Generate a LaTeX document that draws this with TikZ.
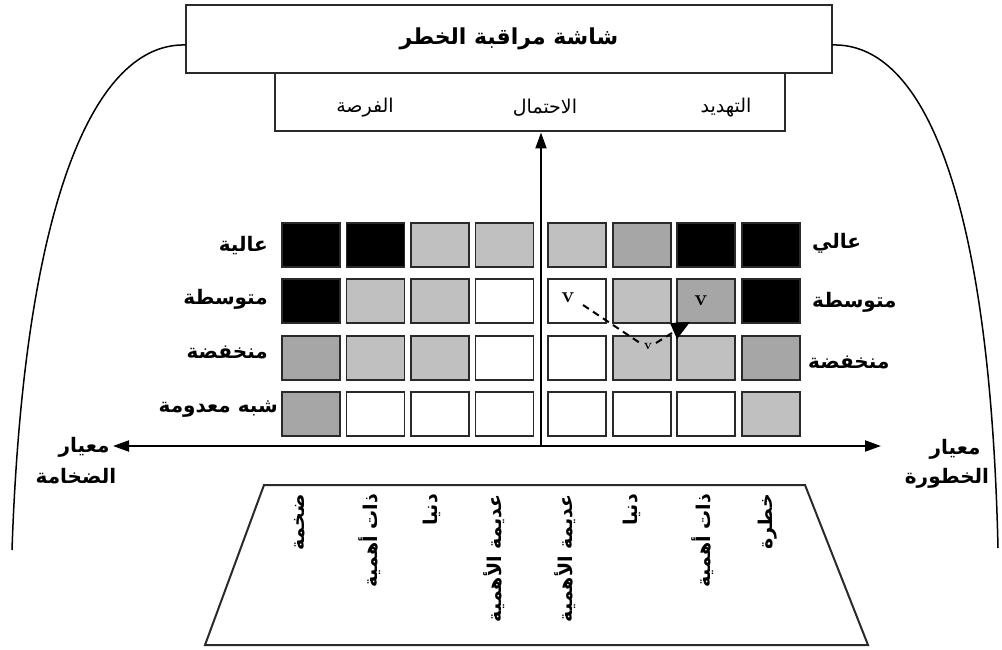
\documentclass[tikz,border=0pt]{standalone}
\usepackage{fontspec}
\TeXXeTstate=1
\newfontfamily\arabicfont[Script=Arabic]{DejaVu Sans}
\usetikzlibrary{arrows.meta}
\definecolor{midgray}{HTML}{A6A6A6}
\definecolor{lightgray}{HTML}{C0C0C0}
\definecolor{edge}{HTML}{2A2A2A}
\tikzset{
  box/.style={draw=edge,line width=2pt,fill=white,inner sep=0pt},
  cell/.style={draw=edge,line width=1.8pt,minimum width=58pt,minimum height=44pt,inner sep=0pt},
  axis/.style={line width=2pt,-{Triangle[length=16pt,width=11pt]}},
  curveline/.style={line width=1.5pt},
  lbl/.style={font=\arabicfont\bfseries\fontsize{20}{24}\selectfont,inner sep=0pt},
  toplbl/.style={font=\arabicfont\fontsize{19}{22}\selectfont,inner sep=0pt},
  botlbl/.style={font=\arabicfont\bfseries\fontsize{19}{22}\selectfont,inner sep=0pt,rotate=90,anchor=east},
  vmark/.style={font=\bfseries\fontsize{22}{22}\selectfont,inner sep=0pt},
  dashline/.style={line width=2pt,dash pattern=on 7pt off 5pt}
}
\begin{document}
\begin{tikzpicture}[x=1pt,y=-1pt]
\useasboundingbox (0,0) rectangle (1002,650);
% top boxes
\node[box,minimum width=510pt,minimum height=59pt] (sub) at (530,102) {};
\node[box,minimum width=646pt,minimum height=68pt] (title) at (509,39) {};
\node[lbl,font=\arabicfont\bfseries\fontsize{22}{26}\selectfont] at (title.center) {\beginR شاشة مراقبة الخطر\endR};
\node[toplbl] (t1) at (365,108) {\beginR الفرصة\endR};
\node[toplbl] (t2) at (545,108) {\beginR الاحتمال\endR};
\node[toplbl] (t3) at (726,108) {\beginR التهديد\endR};
% side curves
\coordinate (lc) at (186,45);
\coordinate (le) at (12,550);
\coordinate (rc) at (832,45);
\coordinate (re) at (998,548);
\draw[curveline] (lc) .. controls (95,42) and (24,200) .. (le);
\draw[curveline] (rc) .. controls (925,42) and (990,200) .. (re);
% grid
\foreach \r/\y/\cols in {1/245/{black,black,lightgray,lightgray,lightgray,midgray,black,black},
                          2/301.3/{black,lightgray,lightgray,white,white,lightgray,midgray,black},
                          3/357.7/{midgray,lightgray,lightgray,white,white,lightgray,lightgray,midgray},
                          4/414/{midgray,white,white,white,white,white,white,lightgray}}{
  \foreach \c/\x [count=\i] in {a/311,b/375.5,c/440,d/504.5,e/577,f/641.7,g/706.3,h/771}{
    \foreach \col [count=\j] in \cols {
      \ifnum\i=\j
        \node[cell,fill=\col] (cell\r\c) at (\x,\y) {};
      \fi
    }
  }
}
% axes
\coordinate (org) at (541,446);
\coordinate (xl) at (113,446);
\coordinate (xr) at (881,446);
\draw[axis] (org) -- (xl);
\draw[axis] (org) -- (xr);
\draw[axis] (org) -- (sub.south -| org);
% row labels
\node[lbl,anchor=east] (l1) at (268,246) {\beginR عالية\endR};
\node[lbl,anchor=east] (l2) at (268,299) {\beginR متوسطة\endR};
\node[lbl,anchor=east] (l3) at (268,352) {\beginR منخفضة\endR};
\node[lbl,anchor=east] (l4) at (278,409) {\beginR شبه معدومة\endR};
\node[lbl,anchor=west] (r1) at (812,243) {\beginR عالي\endR};
\node[lbl,anchor=west] (r2) at (812,302) {\beginR متوسطة\endR};
\node[lbl,anchor=west] (r3) at (808,362) {\beginR منخفضة\endR};
% axis labels
\node[lbl] (al1) at (84,447) {\beginR معيار\endR};
\node[lbl] (al2) at (76,476) {\beginR الضخامة\endR};
\node[lbl] (ar1) at (955,449) {\beginR معيار\endR};
\node[lbl] (ar2) at (947,478) {\beginR الخطورة\endR};
% v marks and dashed arrow
\node[vmark] (v1) at (568,298) {v};
\node[vmark] (v2) at (701,301) {v};
\node[vmark,font=\bfseries\fontsize{14}{14}\selectfont] (v3) at (648,346) {v};
\coordinate (d1) at (583,305);
\coordinate (d2) at (640,343);
\coordinate (d3) at (656,343);
\coordinate (d4) at (672,333);
\draw[dashline] (d1) -- (d2);
\draw[dashline] (d3) -- (d4);
\fill (670,323) -- (690,322) -- (677,339) -- cycle;
% bottom trapezoid
\coordinate (p1) at (264,485);
\coordinate (p2) at (805,485);
\coordinate (p3) at (868,645);
\coordinate (p4) at (205,645);
\draw[line width=2pt,draw=edge,line join=miter] (p1) -- (p2) -- (p3) -- (p4) -- cycle;
\node[botlbl] (b1) at (300,494) {\beginR ضخمة\endR};
\node[botlbl] (b2) at (370,494) {\beginR ذات أهمية\endR};
\node[botlbl] (b3) at (432,494) {\beginR دنيا\endR};
\node[botlbl] (b4) at (494,494) {\beginR عديمة الأهمية\endR};
\node[botlbl] (b5) at (565,494) {\beginR عديمة الأهمية\endR};
\node[botlbl] (b6) at (632,494) {\beginR دنيا\endR};
\node[botlbl] (b7) at (703,494) {\beginR ذات أهمية\endR};
\node[botlbl] (b8) at (768,494) {\beginR خطرة\endR};
\end{tikzpicture}
\end{document}
